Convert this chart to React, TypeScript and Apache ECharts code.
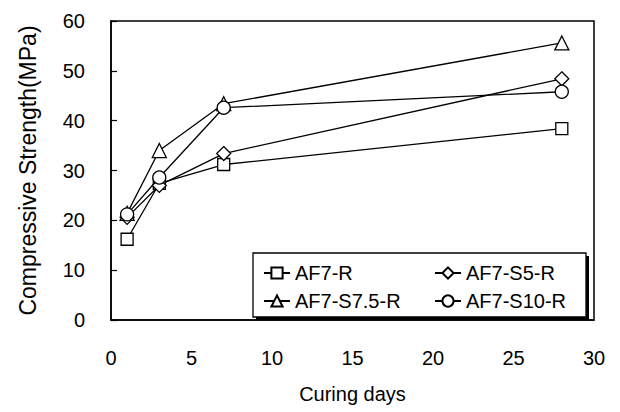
import React, { useEffect, useRef } from "react";
import * as echarts from "echarts";

const days = [1, 3, 7, 28];
const seriesNames = ["AF7-R", "AF7-S5-R", "AF7-S7.5-R", "AF7-S10-R"];
const afR = [16.2, 27.4, 31.2, 38.4];
const afS5R = [20.6, 27.0, 33.4, 48.4];
const afS75R = [21.4, 34.0, 43.4, 55.6];
const afS10R = [21.2, 28.6, 42.6, 45.8];
const symbols = ["rect", "diamond", "triangle", "circle"];
const symbolSizes = [12, 14, 14, 13];
const xTicks = { min: 0, max: 30, interval: 5 };
const yTicks = { min: 0, max: 60, interval: 10 };

const FONT = "'Liberation Sans', Arial, sans-serif";

export default function App() {
  const ref = useRef<HTMLDivElement>(null);
  useEffect(() => {
    if (!ref.current) return;
    const chart = echarts.init(ref.current, null, { renderer: "svg" });
    const values = [afR, afS5R, afS75R, afS10R];
    const series = seriesNames.map((name, i) => ({
      name,
      type: "line",
      data: days.map((d, j) => [d, values[i][j]]),
      symbol: symbols[i],
      symbolSize: symbolSizes[i],
      showSymbol: true,
      lineStyle: { color: "#000", width: 1.3 },
      itemStyle: { color: "#fff", borderColor: "#000", borderWidth: 1.3 },
      z: 3,
    }));
    chart.setOption({
      animation: false,
      backgroundColor: "#fff",
      textStyle: { fontFamily: FONT },
      grid: {
        left: 111,
        right: 26,
        top: 21,
        bottom: 92,
        show: true,
        borderColor: "#000",
        borderWidth: 1.5,
        containLabel: false,
      },
      xAxis: {
        type: "value",
        ...xTicks,
        name: "Curing days",
        nameLocation: "middle",
        nameGap: 64,
        nameTextStyle: { fontSize: 20, color: "#000", fontFamily: FONT },
        axisLine: { show: true, lineStyle: { color: "#000", width: 1.5 } },
        axisTick: { show: false },
        splitLine: { show: false },
        axisLabel: { fontSize: 20, color: "#000", margin: 28, fontFamily: FONT },
      },
      yAxis: {
        type: "value",
        ...yTicks,
        name: "Compressive Strength(MPa)",
        nameLocation: "middle",
        nameGap: 72,
        nameTextStyle: { fontSize: 23, color: "#000", fontFamily: FONT },
        axisLine: { show: true, lineStyle: { color: "#000", width: 1.5 } },
        axisTick: { show: true, inside: true, length: 6, lineStyle: { color: "#000", width: 1.2 } },
        splitLine: { show: false },
        axisLabel: { fontSize: 20, color: "#000", margin: 26, fontFamily: FONT },
      },
      legend: [
        {
          left: 258,
          top: 258,
          orient: "vertical",
          itemGap: 8,
          itemWidth: 26,
          itemHeight: 14,
          data: [seriesNames[0], seriesNames[2]],
          textStyle: { fontSize: 20, color: "#000", fontFamily: FONT },
          z: 10,
        },
        {
          left: 429,
          top: 258,
          orient: "vertical",
          itemGap: 8,
          itemWidth: 26,
          itemHeight: 14,
          data: [seriesNames[1], seriesNames[3]],
          textStyle: { fontSize: 20, color: "#000", fontFamily: FONT },
          z: 10,
        },
      ],
      graphic: [
        {
          type: "rect",
          z: 5,
          shape: { x: 256, y: 256, width: 333, height: 64 },
          style: { fill: "#000" },
        },
        {
          type: "rect",
          z: 6,
          shape: { x: 253, y: 253, width: 333, height: 64 },
          style: { fill: "#fff", stroke: "#000", lineWidth: 1.3 },
        },
      ],
      series,
    });
    return () => chart.dispose();
  }, []);
  return (
    <div
      ref={ref}
      style={{ position: "absolute", left: 0, top: 0, width: 620, height: 412 }}
    />
  );
}
